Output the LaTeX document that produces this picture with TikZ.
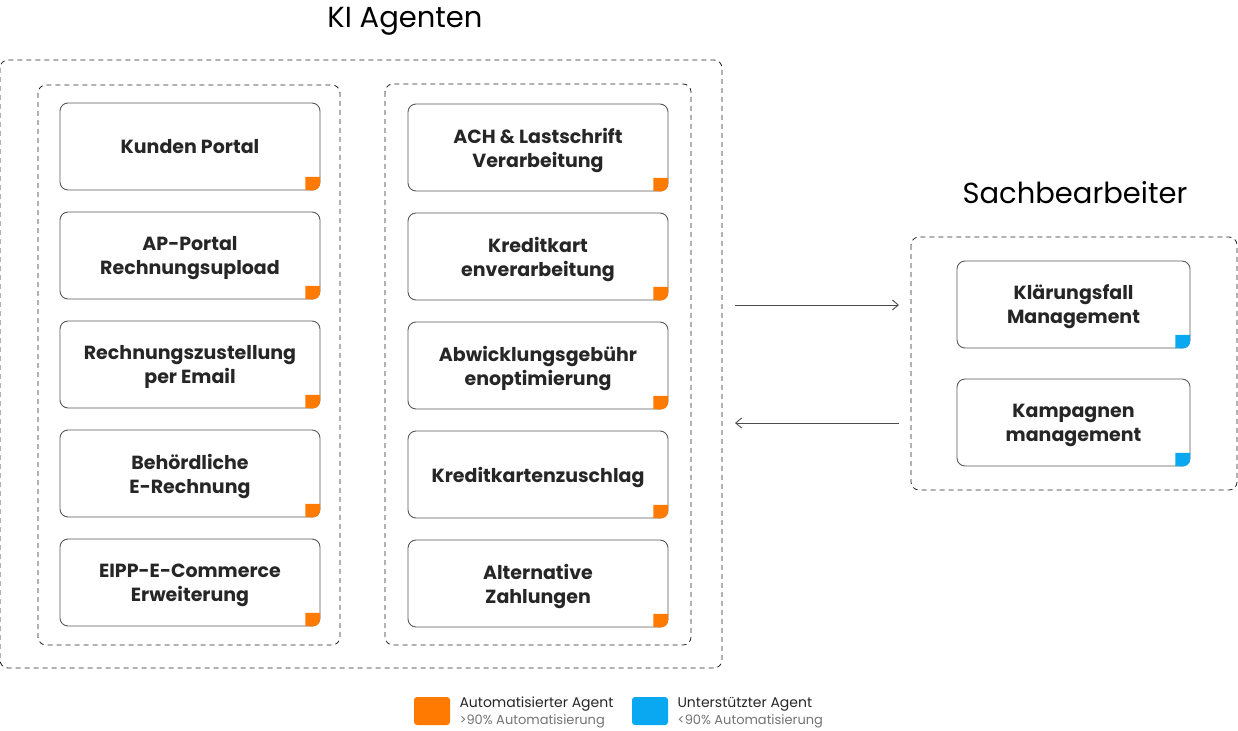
\documentclass[tikz,border=0pt]{standalone}
\usepackage{fontspec}
\usetikzlibrary{arrows.meta}
\setmainfont{Poppins}
\begin{document}
\begin{tikzpicture}[x=1pt,y=-1pt,
  grp/.style={draw=black!85,dash pattern=on 5pt off 4pt,rounded corners=8pt,line width=0.8pt},
  card/.style={draw=black!65,line width=0.9pt,rounded corners=8pt,minimum width=260pt,minimum height=87pt,align=center,font=\fontsize{19}{24}\selectfont\bfseries,text=black!85,text depth=0pt},
  scard/.style={card,minimum width=233pt},
  arr/.style={-{Straight Barb[length=6pt,width=10pt]},draw=black!70,line width=0.9pt},
  mk/.style={fill=#1,rounded corners=0pt}]
\useasboundingbox (0,0) rectangle (1238,730);
\definecolor{org}{HTML}{FF7A00}
\definecolor{blu}{HTML}{0AA8F0}
\node[font=\fontsize{29}{33}\selectfont] (t1) at (405,21) {KI Agenten};
\node[font=\fontsize{29}{33}\selectfont] (t2) at (1075,193) {Sachbearbeiter};
\draw[grp] (0,60) rectangle (722,668);
\draw[grp] (38,85) rectangle (340,645);
\draw[grp] (385,84) rectangle (691,645);
\draw[grp] (911,237) rectangle (1237,490);
\foreach \n/\y/\t in {a1/146.5/Kunden Portal,a2/255.5/{AP-Portal\\Rechnungsupload},a3/364.5/{Rechnungszustellung\\per Email},a4/473.5/{Behördliche\\E-Rechnung},a5/582.5/{EIPP-E-Commerce\\Erweiterung}}{
  \node[card] (\n) at (190,\y) {\t};
  \fill[org] ([xshift=-15pt,yshift=13.5pt]\n.south east) -- ([xshift=-0.45pt,yshift=13.5pt]\n.south east) -- ([xshift=-0.45pt,yshift=7pt]\n.south east) arc[start angle=0,end angle=-90,radius=7pt] -- ([xshift=-15pt,yshift=0.45pt]\n.south east) -- cycle;}
\foreach \n/\y/\t in {b1/147.5/{ACH \& Lastschrift\\Verarbeitung},b2/256.5/{Kreditkart\\enverarbeitung},b3/365.5/{Abwicklungsgebühr\\enoptimierung},b4/474.5/Kreditkartenzuschlag,b5/583.5/{Alternative\\Zahlungen}}{
  \node[card] (\n) at (538,\y) {\t};
  \fill[org] ([xshift=-15pt,yshift=13.5pt]\n.south east) -- ([xshift=-0.45pt,yshift=13.5pt]\n.south east) -- ([xshift=-0.45pt,yshift=7pt]\n.south east) arc[start angle=0,end angle=-90,radius=7pt] -- ([xshift=-15pt,yshift=0.45pt]\n.south east) -- cycle;}
\foreach \n/\y/\t in {c1/304.5/{Klärungsfall\\Management},c2/422.5/{Kampagnen\\management}}{
  \node[scard] (\n) at (1073.5,\y) {\t};
  \fill[blu] ([xshift=-15pt,yshift=13.5pt]\n.south east) -- ([xshift=-0.45pt,yshift=13.5pt]\n.south east) -- ([xshift=-0.45pt,yshift=7pt]\n.south east) arc[start angle=0,end angle=-90,radius=7pt] -- ([xshift=-15pt,yshift=0.45pt]\n.south east) -- cycle;}
\coordinate (p1) at (735,305); \coordinate (p2) at (899,305);
\coordinate (q1) at (899,423); \coordinate (q2) at (735,423);
\draw[arr] (p1) -- (p2);
\draw[arr] (q1) -- (q2);
\fill[org,rounded corners=3pt] (414,697) rectangle (450,725);
\fill[blu,rounded corners=3pt] (632,697) rectangle (668,725);
\node[anchor=west,font=\fontsize{14}{16}\selectfont,text=black!85] (l1) at (456,704) {Automatisierter Agent};
\node[anchor=west,font=\fontsize{13}{15}\selectfont,text=black!55] (l2) at (456,721) {>90\% Automatisierung};
\node[anchor=west,font=\fontsize{14}{16}\selectfont,text=black!85] (l3) at (674,704) {Unterstützter Agent};
\node[anchor=west,font=\fontsize{13}{15}\selectfont,text=black!55] (l4) at (674,721) {<90\% Automatisierung};
\end{tikzpicture}
\end{document}
